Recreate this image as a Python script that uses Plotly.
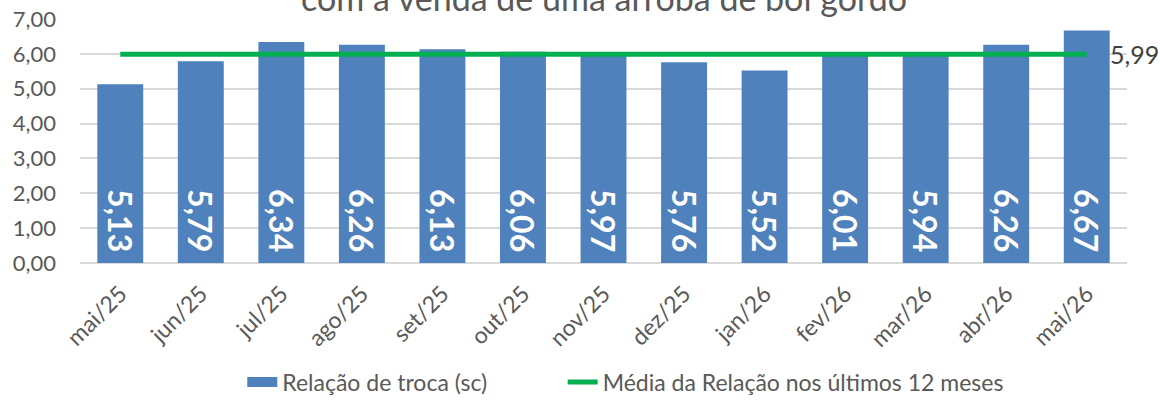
import plotly.graph_objects as go

meses = ["mai/25", "jun/25", "jul/25", "ago/25", "set/25", "out/25", "nov/25",
         "dez/25", "jan/26", "fev/26", "mar/26", "abr/26", "mai/26"]
relacao_troca = [5.13, 5.79, 6.34, 6.26, 6.13, 6.06, 5.97, 5.76, 5.52, 6.01, 5.94, 6.26, 6.67]
media_12m = [5.99] * len(meses)
y_ticks = [0, 1, 2, 3, 4, 5, 6, 7]

FONT = "Lato, 'Open Sans', sans-serif"
AZUL = "#4F81BD"
VERDE = "#00B050"
CINZA = "#595959"


def br(v):
    return f"{v:.2f}".replace(".", ",")


fig = go.Figure()
fig.add_trace(go.Bar(
    x=meses, y=relacao_troca, name="Relação de troca (sc)",
    marker=dict(color=AZUL, line=dict(width=0)),
    width=0.57, showlegend=False,
    # trailing no-break space keeps the value a little above the baseline
    text=[br(v) + "\u00a0" for v in relacao_troca],
    textposition="inside", insidetextanchor="start", textangle=90,
    textfont=dict(family=FONT, size=32, color="white", weight="bold"),
))
# legend swatch for the bars: a wide filled rectangle
fig.add_trace(go.Scatter(
    x=[meses[0]], y=[None], name="Relação de troca (sc)", mode="lines",
    line=dict(color=AZUL, width=16), showlegend=True, hoverinfo="skip",
    legend="legend",
))
fig.add_trace(go.Scatter(
    x=meses, y=media_12m, name="Média da Relação nos últimos 12 meses",
    mode="lines", line=dict(color=VERDE, width=5), legend="legend2",
))

fig.add_annotation(
    x=meses[-1], y=media_12m[-1], xref="x", yref="y",
    text=br(media_12m[-1]), showarrow=False, xanchor="left", yanchor="middle",
    xshift=21, font=dict(family=FONT, size=25, color="#404040"),
)
fig.add_annotation(
    x=0.5, y=1.0, xref="paper", yref="paper", yanchor="middle",
    text="com a venda de uma arroba de boi gordo", showarrow=False,
    yshift=22, font=dict(family=FONT, size=34, color=CINZA),
)

legend_style = dict(orientation="h", yanchor="top", y=-0.40, xanchor="left",
                    font=dict(family=FONT, size=23, color=CINZA),
                    bgcolor="rgba(0,0,0,0)")

fig.update_layout(
    width=1160, height=400,
    margin=dict(l=80, r=33, t=19, b=137, autoexpand=False),
    paper_bgcolor="white", plot_bgcolor="white",
    font=dict(family=FONT, color=CINZA),
    bargap=0.43,
    showlegend=True,
    legend=dict(legend_style, x=0.155),
    legend2=dict(legend_style, x=0.461),
    uniformtext=dict(mode=False),
)
fig.update_xaxes(
    range=[-0.5, len(meses) - 0.5],
    tickangle=-45, tickfont=dict(family=FONT, size=23, color=CINZA),
    showgrid=False, showline=False, ticks="", automargin=False,
    ticklabelstandoff=12,
)
fig.update_yaxes(
    range=[0, 7], tickvals=y_ticks, ticktext=[br(v) for v in y_ticks],
    tickfont=dict(family=FONT, size=22, color=CINZA),
    showgrid=True, gridcolor="#D9D9D9", gridwidth=1.5,
    zeroline=True, zerolinecolor="#D9D9D9", zerolinewidth=1.5,
    showline=False, ticks="", automargin=False, ticklabelstandoff=23,
)

fig.write_html("out.html")
